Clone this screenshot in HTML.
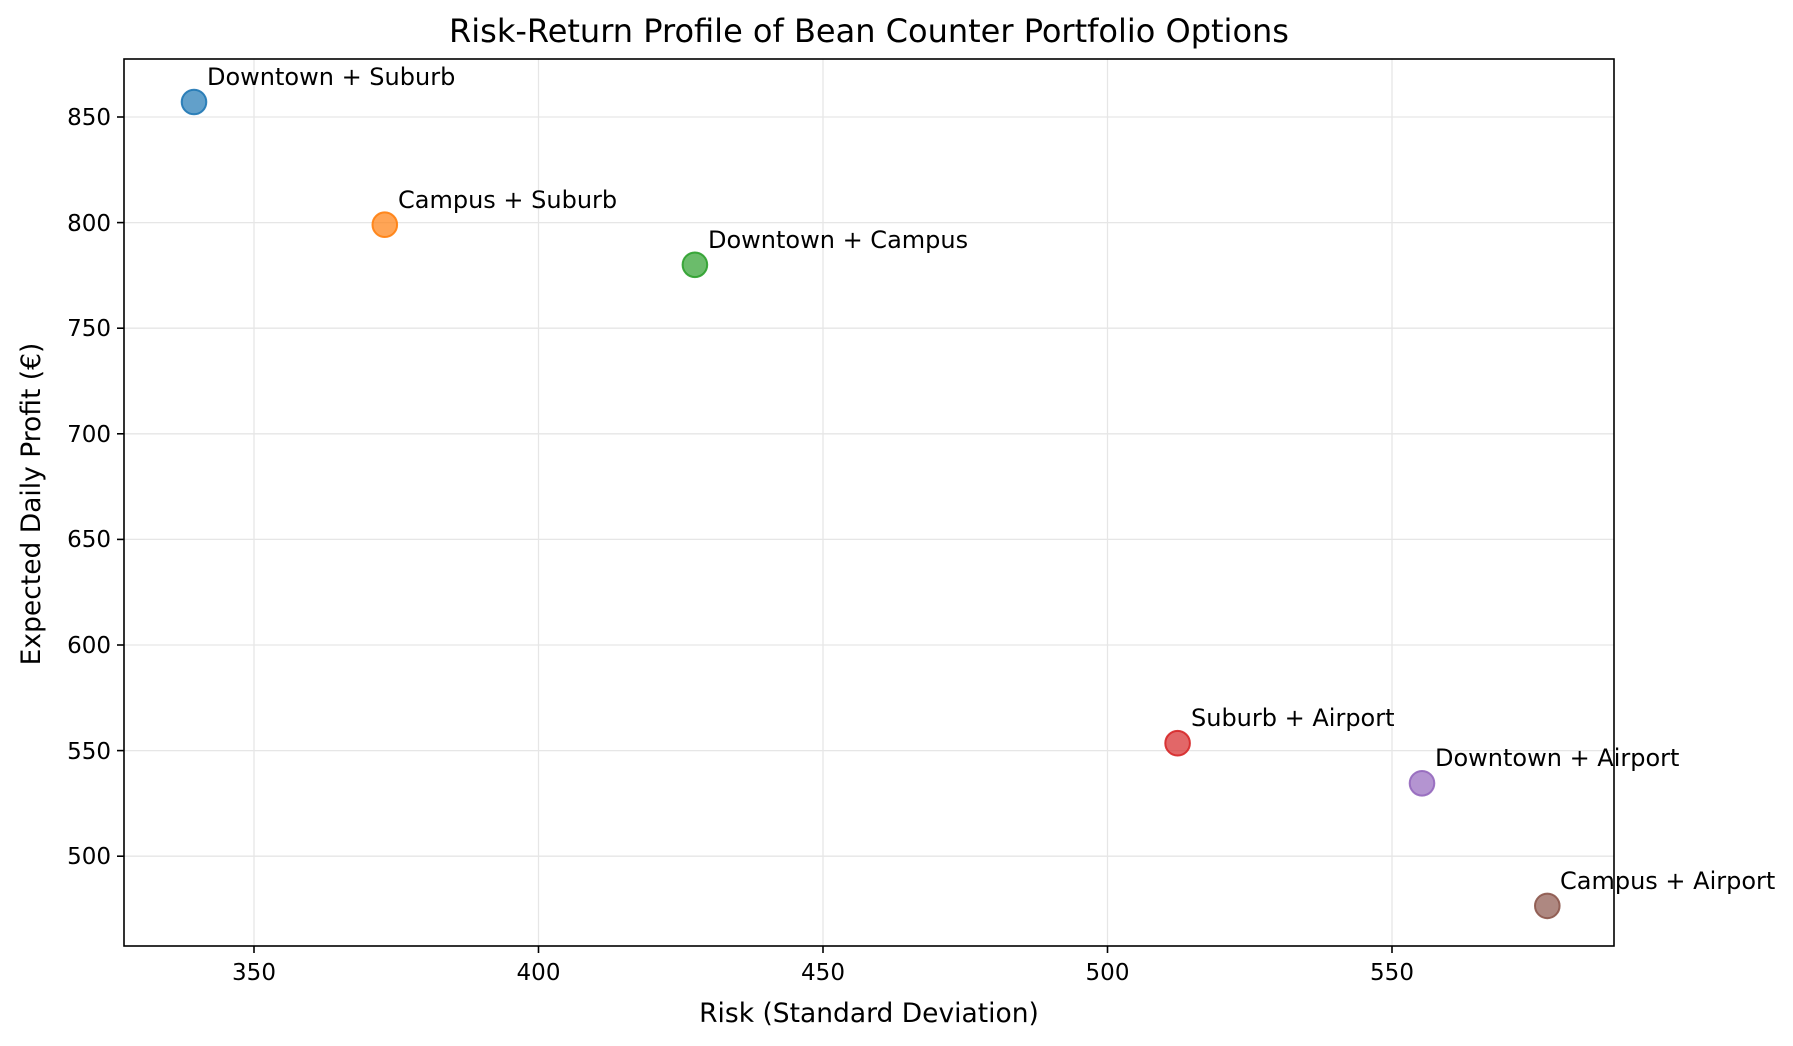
<!DOCTYPE html>
<html><head><meta charset="utf-8"><style>body{margin:0;background:#fff}svg{display:block}text{font-family:"DejaVu Sans","Liberation Sans",sans-serif;fill:#000}</style></head>
<body>
<svg width="1793" height="1046" viewBox="0 0 1793 1046" xmlns="http://www.w3.org/2000/svg">
<rect width="1793" height="1046" fill="#fff"/>
<g stroke="#e6e6e6" stroke-width="1.3">
<line x1="254" y1="59" x2="254" y2="946"/><line x1="538.5" y1="59" x2="538.5" y2="946"/><line x1="823" y1="59" x2="823" y2="946"/><line x1="1107.5" y1="59" x2="1107.5" y2="946"/><line x1="1392" y1="59" x2="1392" y2="946"/>
<line x1="124" y1="117" x2="1614" y2="117"/><line x1="124" y1="222.6" x2="1614" y2="222.6"/><line x1="124" y1="328.2" x2="1614" y2="328.2"/><line x1="124" y1="433.8" x2="1614" y2="433.8"/><line x1="124" y1="539.4" x2="1614" y2="539.4"/><line x1="124" y1="645" x2="1614" y2="645"/><line x1="124" y1="750.6" x2="1614" y2="750.6"/><line x1="124" y1="856.2" x2="1614" y2="856.2"/>
</g>
<g stroke-width="2" fill-opacity="0.7" stroke-opacity="0.9">
<circle cx="194" cy="102" r="12.3" fill="#1f77b4" stroke="#1f77b4"/>
<circle cx="384.8" cy="224.7" r="12.3" fill="#ff7f0e" stroke="#ff7f0e"/>
<circle cx="694.9" cy="264.8" r="12.3" fill="#2ca02c" stroke="#2ca02c"/>
<circle cx="1177.6" cy="743.2" r="12.3" fill="#d62728" stroke="#d62728"/>
<circle cx="1422" cy="783.3" r="12.3" fill="#9467bd" stroke="#9467bd"/>
<circle cx="1547.3" cy="905.9" r="12.3" fill="#8c564b" stroke="#8c564b"/>
</g>
<g font-size="24">
<text x="207" y="85">Downtown + Suburb</text>
<text x="398" y="208">Campus + Suburb</text>
<text x="708" y="248">Downtown + Campus</text>
<text x="1191" y="726">Suburb + Airport</text>
<text x="1435" y="766">Downtown + Airport</text>
<text x="1560" y="889">Campus + Airport</text>
</g>
<rect x="124" y="59" width="1490" height="887" fill="none" stroke="#000" stroke-width="1.6"/>
<g stroke="#000" stroke-width="1.6">
<line x1="254" y1="946" x2="254" y2="953"/><line x1="538.5" y1="946" x2="538.5" y2="953"/><line x1="823" y1="946" x2="823" y2="953"/><line x1="1107.5" y1="946" x2="1107.5" y2="953"/><line x1="1392" y1="946" x2="1392" y2="953"/>
<line x1="117" y1="117" x2="124" y2="117"/><line x1="117" y1="222.6" x2="124" y2="222.6"/><line x1="117" y1="328.2" x2="124" y2="328.2"/><line x1="117" y1="433.8" x2="124" y2="433.8"/><line x1="117" y1="539.4" x2="124" y2="539.4"/><line x1="117" y1="645" x2="124" y2="645"/><line x1="117" y1="750.6" x2="124" y2="750.6"/><line x1="117" y1="856.2" x2="124" y2="856.2"/>
</g>
<g font-size="23" text-anchor="middle">
<text x="254" y="980">350</text><text x="538.5" y="980">400</text><text x="823" y="980">450</text><text x="1107.5" y="980">500</text><text x="1392" y="980">550</text>
</g>
<g font-size="23" text-anchor="end">
<text x="111" y="125">850</text><text x="111" y="231">800</text><text x="111" y="336">750</text><text x="111" y="442">700</text><text x="111" y="547">650</text><text x="111" y="653">600</text><text x="111" y="759">550</text><text x="111" y="864">500</text>
</g>
<text x="869" y="1022" font-size="26.5" text-anchor="middle">Risk (Standard Deviation)</text>
<text transform="translate(40,504) rotate(-90)" font-size="26.5" text-anchor="middle">Expected Daily Profit (€)</text>
<text x="869" y="42" font-size="32" text-anchor="middle">Risk-Return Profile of Bean Counter Portfolio Options</text>
</svg>
</body></html>
